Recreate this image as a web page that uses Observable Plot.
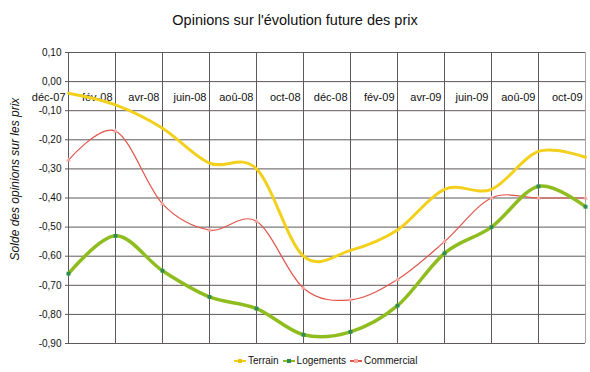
<!DOCTYPE html>
<html>
<head>
<meta charset="utf-8">
<script src="https://cdn.jsdelivr.net/npm/d3@7"></script>
<script src="https://cdn.jsdelivr.net/npm/@observablehq/plot@0.6"></script>
<style>
  body { margin: 0; background: #fff; font-family: "Liberation Sans", Arial, sans-serif; }
  #wrap { position: relative; width: 590px; height: 372px; overflow: hidden; background: #fff; }
  #chart { position: absolute; left: 0; top: 0; }
  #title { position: absolute; left: 0; top: 12px; width: 590px; text-align: center; font-size: 14.5px; color: #111; }
  #ylab { position: absolute; left: 15px; top: 179px; transform: translate(-50%, -50%) rotate(-90deg);
          font-style: italic; font-size: 12px; white-space: nowrap; color: #111; }
  #legend { position: absolute; left: 234px; top: 355px; display: flex; align-items: center; font-size: 10px; color: #111; }
  #legend .item { display: flex; align-items: center; margin-right: 4px; }
  #legend svg { margin-right: 2px; }
</style>
</head>
<body>
<div id="wrap">
  <div id="chart"></div>
  <div id="title">Opinions sur l'évolution future des prix</div>
  <div id="ylab">Solde des opinions sur les prix</div>
  <div id="legend"></div>
</div>
<script>
// ---- Data ----
const months = ["déc-07","fév-08","avr-08","juin-08","aoû-08","oct-08","déc-08","fév-09","avr-09","juin-09","aoû-09","oct-09"];
const terrain    = [-0.04,-0.08,-0.16,-0.28,-0.30,-0.60,-0.58,-0.51,-0.37,-0.37,-0.24,-0.26];
const logements  = [-0.66,-0.53,-0.65,-0.74,-0.78,-0.87,-0.86,-0.77,-0.59,-0.50,-0.36,-0.43];
const commercial = [-0.27,-0.17,-0.42,-0.51,-0.48,-0.71,-0.75,-0.68,-0.55,-0.40,-0.40,-0.40];
const yTicks = [0.1, 0, -0.1, -0.2, -0.3, -0.4, -0.5, -0.6, -0.7, -0.8, -0.9];
const axisCross = 0;
const seriesNames = ["Terrain", "Logements", "Commercial"];
const seriesColors = ["#f2d01c", "#8fbd1f", "#e2544b"];

const fmt = v => {
  const r = Math.round(v * 100) / 100;
  const s = Math.abs(r).toFixed(2).replace(".", ",");
  return (r < 0 ? "-" : "") + s;
};
const grid = "#5f5858";

const chart = Plot.plot({
  width: 590,
  height: 372,
  marginTop: 52,
  marginBottom: 29,
  marginLeft: 68,
  marginRight: 5,
  style: { fontFamily: "Liberation Sans, Arial, sans-serif", background: "transparent", color: "#111" },
  x: { type: "point", domain: months, padding: 0, axis: null },
  y: { domain: [-0.9, 0.1], axis: null },
  marks: [
    Plot.ruleY(yTicks, { stroke: grid, strokeWidth: 1 }),
    Plot.ruleX(months, { stroke: (d, i) => i === months.length - 1 ? "#a9a6a4" : grid, strokeWidth: 1 }),
    Plot.axisY({ ticks: yTicks, tickSize: 3, tickPadding: 4, tickFormat: fmt, fontSize: 10, stroke: grid, label: null }),
    Plot.text(months, { x: d => d, y: () => axisCross, textAnchor: "end", dx: -3, dy: 16, fontSize: 11, fill: "#111" }),
    Plot.line(terrain, { x: (d, i) => months[i], y: d => d, curve: "cardinal", tension: 0, stroke: seriesColors[0], strokeWidth: 3 }),
    Plot.line(commercial, { x: (d, i) => months[i], y: d => d, curve: "cardinal", tension: 0, stroke: seriesColors[2], strokeWidth: 1.2 }),
    Plot.dot(commercial, { x: (d, i) => months[i], y: d => d, symbol: "triangle", r: 1.8, fill: "#f4a6a0" }),
    Plot.line(logements, { x: (d, i) => months[i], y: d => d, curve: "cardinal", tension: 0, stroke: seriesColors[1], strokeWidth: 3.5 }),
    Plot.dot(logements, { x: (d, i) => months[i], y: d => d, symbol: "square", r: 2.2, fill: "#2e8c55" })
  ]
});
document.getElementById("chart").appendChild(chart);

// ---- Legend ----
const markerFills = ["#e8c40c", "#2e8c55", "#f4a6a0"];
const legend = document.getElementById("legend");
seriesNames.forEach((name, i) => {
  const item = document.createElement("div");
  item.className = "item";
  item.innerHTML = `<svg width="12" height="8"><line x1="0" y1="4" x2="12" y2="4" stroke="${seriesColors[i]}" stroke-width="2"/>` +
    `<rect x="4" y="2" width="4" height="4" fill="${markerFills[i]}"/></svg><span>${name}</span>`;
  legend.appendChild(item);
});
</script>
</body>
</html>
